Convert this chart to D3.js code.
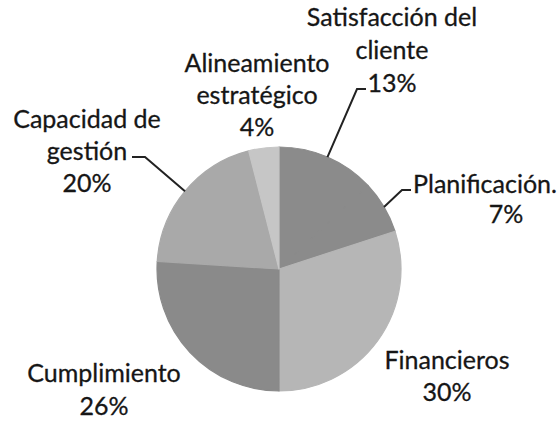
<!DOCTYPE html>
<html>
<head>
<meta charset="utf-8">
<script src="https://cdn.jsdelivr.net/npm/d3@7"></script>
<style>
  body { margin: 0; background: #fff; }
  text { font-family: Lato, "Open Sans", sans-serif; fill: #161616; stroke: #161616; stroke-width: 0.3px; }
</style>
</head>
<body>
<div id="chart"></div>
<script>
// data, clockwise from 12 o'clock
const categories = ["Satisfacción del cliente", "Planificación.", "Financieros", "Cumplimiento", "Capacidad de gestión", "Alineamiento estratégico"];
const values = [13, 7, 30, 26, 20, 4];
const labelLines = [
  ["Satisfacción del", "cliente", "13%"],
  ["Planificación.", "7%"],
  ["Financieros", "30%"],
  ["Cumplimiento", "26%"],
  ["Capacidad de", "gestión", "20%"],
  ["Alineamiento", "estratégico", "4%"]
];
const sliceColors = ["#8b8b8b", "#8b8b8b", "#b6b6b6", "#8a8a8a", "#a9a9a9", "#c6c6c6"];

const width = 559, height = 427;
const cx = 279, cy = 269, radius = 122;

// label layout: x centre, first baseline, line step, optional per-line x
const labelLayout = [
  { x: 392, y: 26, dy: 33 },
  { x: 485, y: 193, dy: 30, xs: [485, 506] },
  { x: 447, y: 369, dy: 32 },
  { x: 104, y: 382, dy: 33 },
  { x: 87, y: 128, dy: 32 },
  { x: 257, y: 72, dy: 32 }
];
// leader lines: elbow and end of horizontal stub (null = no leader)
const leaders = [
  { elbow: [357, 89], end: [366, 89] },
  { elbow: [402, 190], end: [411, 190] },
  null,
  null,
  { elbow: [145, 157], end: [132, 157] },
  null
];

const svg = d3.select("#chart")
  .append("svg")
  .attr("width", width)
  .attr("height", height);

const pie = d3.pie().sort(null).value(d => d);
const arcs = pie(values);
const arc = d3.arc().innerRadius(0).outerRadius(radius);

const g = svg.append("g").attr("transform", `translate(${cx},${cy})`);

g.selectAll("path")
  .data(arcs)
  .join("path")
  .attr("d", arc)
  .attr("fill", (d, i) => sliceColors[i])
  .attr("stroke", (d, i) => sliceColors[i])
  .attr("stroke-width", 1.2)
  .attr("stroke-linejoin", "round");

// leader lines from the slice edge at mid angle
arcs.forEach((d, i) => {
  const l = leaders[i];
  if (!l) return;
  const a = (d.startAngle + d.endAngle) / 2;
  const p0 = [cx + radius * Math.sin(a), cy - radius * Math.cos(a)];
  svg.append("polyline")
    .attr("points", [p0, l.elbow, l.end].map(p => p.join(",")).join(" "))
    .attr("fill", "none")
    .attr("stroke", "#222")
    .attr("stroke-width", 2);
});

// labels
labelLines.forEach((lines, i) => {
  const lay = labelLayout[i];
  const t = svg.append("text")
    .attr("text-anchor", "middle")
    .attr("font-size", 25);
  lines.forEach((s, j) => {
    t.append("tspan")
      .attr("x", lay.xs ? lay.xs[j] : lay.x)
      .attr("y", lay.y + j * lay.dy)
      .text(s);
  });
});
</script>
</body>
</html>
